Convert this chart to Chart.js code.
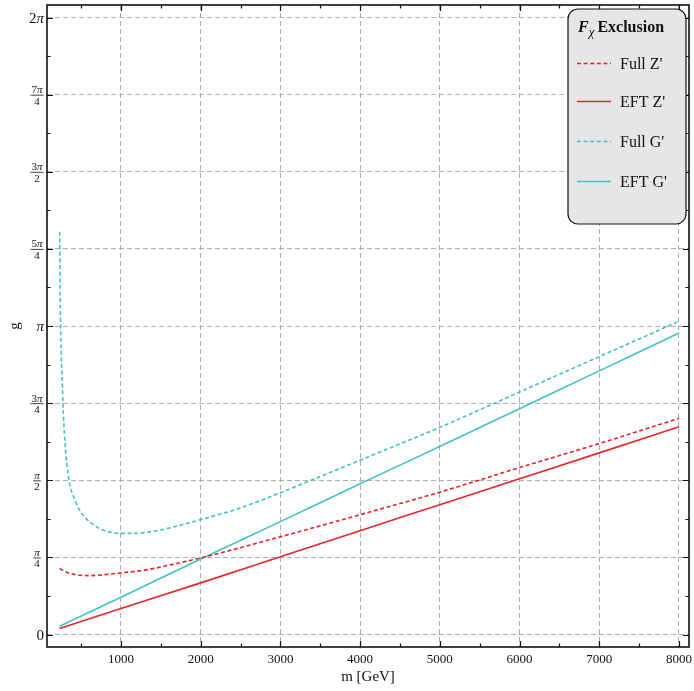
<!DOCTYPE html>
<html>
<head>
<meta charset="utf-8">
<script src="https://cdn.jsdelivr.net/npm/chart.js@4/dist/chart.umd.min.js"></script>
<style>
  html, body { margin: 0; padding: 0; background: #fff; }
  #wrap { width: 694px; height: 691px; }
</style>
</head>
<body>
<div id="wrap"><canvas id="chart"></canvas></div>
<script>
// F_chi exclusion curves, g versus m [GeV]
const fullZMass = [231, 300, 400, 600, 800, 1000, 1300, 1700, 2000, 3000, 4000, 5000, 6000, 7000, 8000];
const fullZ     = [0.673, 0.640, 0.615, 0.600, 0.610, 0.628, 0.656, 0.724, 0.780, 0.995, 1.220, 1.450, 1.700, 1.945, 2.200];

const eftMass = [231, 1000, 2000, 3000, 4000, 5000, 6000, 7000, 8000];
const eftZ    = [0.061, 0.265, 0.526, 0.792, 1.058, 1.322, 1.586, 1.850, 2.115];
const eftG    = [0.085, 0.380, 0.770, 1.150, 1.535, 1.915, 2.300, 2.685, 3.070];

const fullGMass = [231, 236, 243, 256, 263, 272, 297, 348, 423, 507, 632, 778, 987, 1154, 1489, 1866, 2000, 2500, 3000, 4000, 5000, 6000, 7000, 8000];
const fullG     = [4.10, 3.55, 3.14, 2.72, 2.59, 2.354, 1.963, 1.573, 1.369, 1.234, 1.132, 1.064, 1.030, 1.030, 1.064, 1.140, 1.170, 1.290, 1.445, 1.775, 2.110, 2.470, 2.830, 3.190];

const seriesLabels = ["Full Z'", "EFT Z'", "Full G'", "EFT G'"];
const xTickValues = [1000, 2000, 3000, 4000, 5000, 6000, 7000, 8000];
// y ticks are multiples of pi/4: [numerator, denominator] (denominator '' = plain label)
const yTickLabels = [['0', ''], ['π', '4'], ['π', '2'], ['3π', '4'], ['π', ''], ['5π', '4'], ['3π', '2'], ['7π', '4'], ['2π', '']];

const RED = '#e8242a';
const CYAN = '#45c1c1';
const SERIF = '"Liberation Serif", "DejaVu Serif", serif';
const DASH = [4, 2.6];

const pts = (xs, ys) => xs.map((x, i) => ({ x, y: ys[i] }));

// --- frame, ticks, labels, legend ---
const framePlugin = {
    id: 'frame',
    afterDraw(chart) {
        const { ctx, chartArea: a, scales: { x, y } } = chart;
        ctx.save();

        // ticks pointing inward on all four sides
        ctx.strokeStyle = '#111';
        ctx.lineWidth = 1.2;
        ctx.beginPath();
        for (let v = 500; v <= x.max; v += 500) {
            if (v < x.min) continue;
            const px = Math.round(x.getPixelForValue(v)) + 0.5;
            const len = v % 1000 === 0 ? 6 : 3.5;
            ctx.moveTo(px, a.bottom); ctx.lineTo(px, a.bottom - len);
            ctx.moveTo(px, a.top); ctx.lineTo(px, a.top + len);
        }
        for (let k = 0; k <= 16; k++) {
            const py = Math.round(y.getPixelForValue(k * Math.PI / 8)) + 0.5;
            const len = k % 2 === 0 ? 6 : 3.5;
            ctx.moveTo(a.left, py); ctx.lineTo(a.left + len, py);
            ctx.moveTo(a.right, py); ctx.lineTo(a.right - len, py);
        }
        ctx.stroke();

        ctx.lineWidth = 1.6;
        ctx.strokeRect(a.left, a.top, a.right - a.left, a.bottom - a.top);

        // x tick labels
        ctx.fillStyle = '#111';
        ctx.font = '13px ' + SERIF;
        ctx.textAlign = 'center';
        ctx.textBaseline = 'middle';
        xTickValues.forEach(v => ctx.fillText(String(v), x.getPixelForValue(v), 660));

        // y tick labels (pi fractions)
        yTickLabels.forEach(([num, den], k) => {
            const py = y.getPixelForValue(k * Math.PI / 4);
            if (!den) {
                drawPi(ctx, num, 44, py + 5, 15, 'right');
            } else {
                const cx = 37;
                const w = piWidth(ctx, num, 11);
                drawPi(ctx, num, cx, py - 1.5, 11, 'center');
                ctx.font = '11px ' + SERIF;
                ctx.textAlign = 'center';
                ctx.textBaseline = 'alphabetic';
                ctx.fillText(den, cx, py + 10);
                ctx.lineWidth = 0.8;
                ctx.beginPath();
                ctx.moveTo(cx - w / 2 - 1, py + 0.5);
                ctx.lineTo(cx + w / 2 + 1, py + 0.5);
                ctx.stroke();
            }
        });

        // axis titles
        ctx.font = '15px ' + SERIF;
        ctx.textAlign = 'center';
        ctx.textBaseline = 'middle';
        ctx.fillText('m [GeV]', (a.left + a.right) / 2, 677);
        ctx.save();
        ctx.translate(15, 326);
        ctx.rotate(-Math.PI / 2);
        ctx.fillText('g', 0, 0);
        ctx.restore();

        drawLegend(ctx, chart);
        ctx.restore();
    }
};

function piWidth(ctx, s, size) {
    const plain = s.replace('π', '');
    ctx.font = size + 'px ' + SERIF;
    let w = ctx.measureText(plain).width;
    ctx.font = 'italic ' + size + 'px ' + SERIF;
    return w + (s.includes('π') ? ctx.measureText('π').width : 0);
}

// draws e.g. "3π" with an upright digit and italic pi
function drawPi(ctx, s, x, baseline, size, align) {
    const plain = s.replace('π', '');
    const total = piWidth(ctx, s, size);
    let left = align === 'right' ? x - total : x - total / 2;
    ctx.textAlign = 'left';
    ctx.textBaseline = 'alphabetic';
    ctx.font = size + 'px ' + SERIF;
    ctx.fillText(plain, left, baseline);
    left += ctx.measureText(plain).width;
    if (s.includes('π')) {
        ctx.font = 'italic ' + size + 'px ' + SERIF;
        ctx.fillText('π', left, baseline);
    }
}

function drawLegend(ctx, chart) {
    const bx = 568, by = 9, bw = 118, bh = 215;
    ctx.beginPath();
    ctx.roundRect(bx, by, bw, bh, 10);
    ctx.fillStyle = '#e6e6e6';
    ctx.fill();
    ctx.lineWidth = 1.2;
    ctx.strokeStyle = '#111';
    ctx.stroke();

    // title: bold italic F, italic chi subscript, bold "Exclusion"
    ctx.fillStyle = '#111';
    ctx.textAlign = 'left';
    ctx.textBaseline = 'alphabetic';
    let tx = 578;
    ctx.font = 'bold italic 16px ' + SERIF;
    ctx.fillText('F', tx, 32);
    tx += ctx.measureText('F').width;
    ctx.font = 'italic 13px ' + SERIF;
    ctx.fillText('χ', tx, 36);
    tx += ctx.measureText('χ').width + 3;
    ctx.font = 'bold 16px ' + SERIF;
    ctx.fillText('Exclusion', tx, 32);

    const rowY = [63, 101, 141, 181];
    chart.data.datasets.forEach((ds, i) => {
        const yy = rowY[i] + 0.5;
        ctx.strokeStyle = ds.borderColor;
        ctx.lineWidth = 1.6;
        ctx.setLineDash(ds.borderDash || []);
        ctx.beginPath();
        ctx.moveTo(577, yy);
        ctx.lineTo(611, yy);
        ctx.stroke();
        ctx.setLineDash([]);
        ctx.fillStyle = '#111';
        ctx.font = '16px ' + SERIF;
        ctx.fillText(ds.label, 620, yy + 5);
    });
}

const lineStyle = { borderWidth: 1.6, pointRadius: 0, fill: false, cubicInterpolationMode: 'monotone' };

const ctx = document.getElementById('chart').getContext('2d');
new Chart(ctx, {
    type: 'line',
    data: {
        datasets: [
            { label: seriesLabels[0], data: pts(fullZMass, fullZ), borderColor: RED, borderDash: DASH, ...lineStyle },
            { label: seriesLabels[1], data: pts(eftMass, eftZ), borderColor: RED, ...lineStyle },
            { label: seriesLabels[2], data: pts(fullGMass, fullG), borderColor: CYAN, borderDash: DASH, ...lineStyle },
            { label: seriesLabels[3], data: pts(eftMass, eftG), borderColor: CYAN, ...lineStyle }
        ]
    },
    options: {
        responsive: true,
        maintainAspectRatio: false,
        animation: false,
        layout: { padding: { top: 5, right: 5, left: 0, bottom: 0 } },
        scales: {
            x: {
                type: 'linear',
                min: 72,
                max: 8126,
                afterBuildTicks: s => { s.ticks = xTickValues.map(v => ({ value: v })); },
                afterFit: s => { s.height = 44; },
                ticks: { display: false },
                border: { display: false, dash: [5, 3] },
                grid: { color: '#adadad', lineWidth: 1, drawTicks: false }
            },
            y: {
                type: 'linear',
                min: -0.127,
                max: 6.411,
                afterBuildTicks: s => { s.ticks = yTickLabels.map((_, k) => ({ value: k * Math.PI / 4 })); },
                afterFit: s => { s.width = 47; },
                ticks: { display: false },
                border: { display: false, dash: [5, 3] },
                grid: { color: '#adadad', lineWidth: 1, drawTicks: false }
            }
        },
        plugins: { legend: { display: false }, tooltip: { enabled: false } }
    },
    plugins: [framePlugin]
});
</script>
</body>
</html>
